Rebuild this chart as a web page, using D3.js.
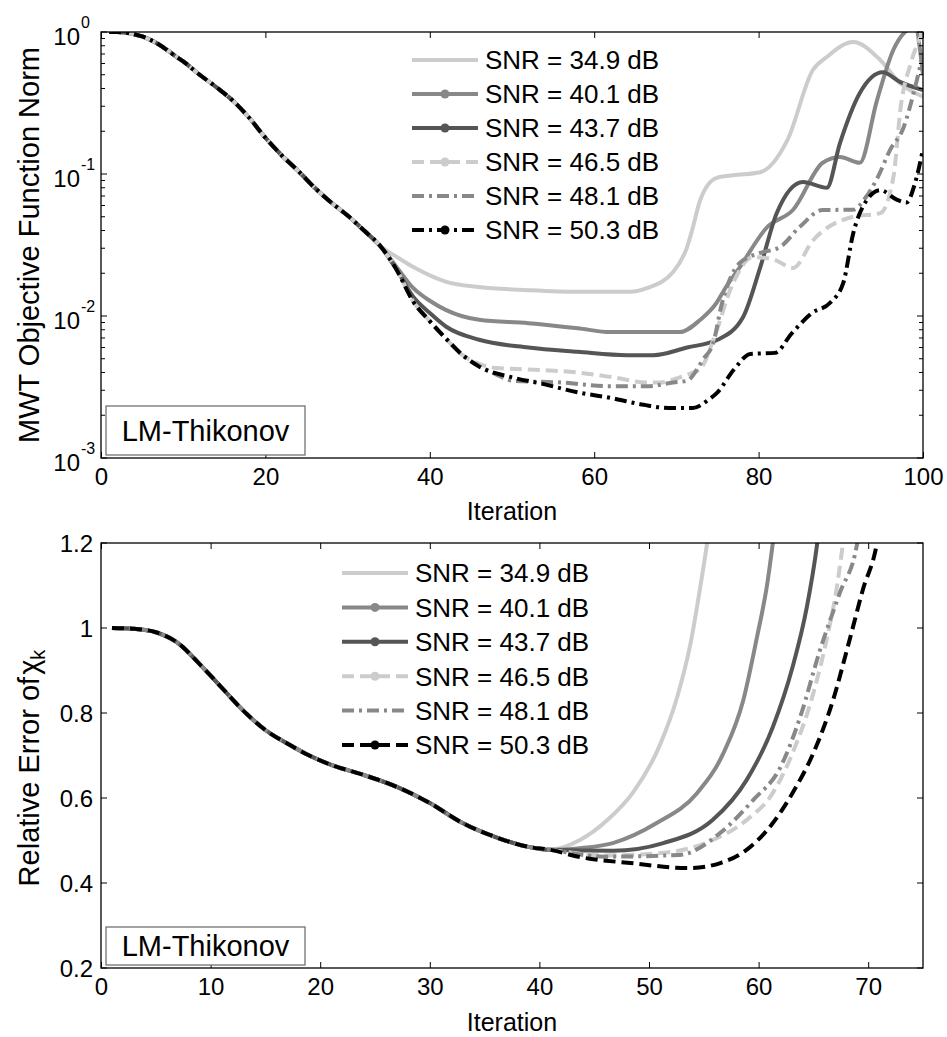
<!DOCTYPE html>
<html><head><meta charset="utf-8">
<script src="https://cdn.jsdelivr.net/npm/d3@7"></script>
<style>
body{margin:0;background:#fff}
text{font-family:"Liberation Sans",Arial,Helvetica,sans-serif;fill:#000}
</style></head>
<body><svg id="c" width="947" height="1037"></svg>
<script>
// ---------- DATA ----------
const seriesNames = ["SNR = 34.9 dB","SNR = 40.1 dB","SNR = 43.7 dB","SNR = 46.5 dB","SNR = 48.1 dB","SNR = 50.3 dB"];

// Top panel: MWT objective function norm (log scale), shared start
const topCommonIter = [1,2,3,4,5,6,7,8,9,10,12,14,16,18,20,22,24,26,28,30,32,34];
const topCommonVal  = [1.0,1.0,0.99,0.965,0.93,0.88,0.82,0.75,0.68,0.62,0.5,0.41,0.33,0.25,0.18,0.135,0.105,0.08,0.063,0.051,0.04,0.031];

const top349Iter = [36,38,42,46,52,58,64.4,66.4,69.6,71.3,71.9,72.9,74.9,76.9,80.2,83.5,86.6,88.3,91.5,94.8,97.2,100];
const top349Val  = [0.026,0.0221,0.0174,0.016,0.0152,0.0148,0.0148,0.0157,0.0204,0.0306,0.04,0.0656,0.094,0.098,0.103,0.173,0.54,0.667,0.85,0.635,0.437,0.35];

const top401Iter = [36,38,40,42,46,52,58,62,70.4,72.9,74.9,75.8,77.7,81,84.2,87.8,89.9,92.3,94.4,96.4,97.8,99,100];
const top401Val  = [0.022,0.0157,0.0128,0.011,0.0094,0.0089,0.0082,0.0077,0.0077,0.0094,0.0124,0.0152,0.022,0.042,0.056,0.12,0.132,0.12,0.33,0.75,1.0,1.08,0.5];

const top437Iter = [36,38,40,42,46,52,58,64,67.2,71.3,75,78.1,80.2,82.2,85.4,88.3,89.9,92.3,95.1,97.2,100];
const top437Val  = [0.021,0.0136,0.0105,0.0084,0.0068,0.006,0.0056,0.0053,0.0053,0.006,0.0068,0.0098,0.022,0.053,0.088,0.08,0.165,0.37,0.52,0.445,0.39];

const topGroupIter = [36,38,40,42,44];          // 46.5 / 48.1 / 50.3 together
const topGroupVal  = [0.021,0.0126,0.0092,0.0069,0.0053];

const top465Iter = [46,48.2,52,58,62.3,66.4,68,70.4,72,73,74.5,76.9,79.3,81.8,84.2,86.6,91.5,94.8,96.4,97.3,98.5,100];
const top465Val  = [0.0046,0.0043,0.0042,0.004,0.0037,0.0034,0.0034,0.0037,0.004,0.0043,0.0068,0.0171,0.026,0.025,0.0218,0.034,0.05,0.053,0.095,0.3,0.6,1.0];

const top481Iter = [45.3,48,50,56,62,66.4,69.6,71.3,72.5,73.2,74.5,75.5,77.7,80.2,82.6,85,87.8,91.5,93,94.5,96,97.6,99,100];
const top481Val  = [0.0047,0.0039,0.0035,0.0034,0.0032,0.0032,0.0034,0.0035,0.0042,0.0049,0.0065,0.012,0.0236,0.0278,0.0306,0.0424,0.0558,0.056,0.068,0.095,0.148,0.21,0.4,0.7];

const top503Iter = [46,50,54,58,62,66,69,72,74,75,77,79,82,84,86.5,88.7,90.3,91.5,93.2,94.8,96.8,98,99,100];
const top503Val  = [0.0044,0.0037,0.0033,0.0029,0.00265,0.00237,0.00225,0.00225,0.0026,0.0029,0.0042,0.0054,0.0055,0.0075,0.0105,0.0124,0.0171,0.038,0.066,0.077,0.066,0.063,0.085,0.15];

// Bottom panel: relative error of chi_k, shared start
const botCommonIter = [1,3,5,7,9,11,13,15,17,19,21,24,27,30,33,36,39,41];
const botCommonVal  = [1.0,0.998,0.99,0.965,0.915,0.86,0.805,0.76,0.728,0.70,0.678,0.654,0.626,0.588,0.541,0.508,0.485,0.478];

const bot349Iter = [43.7,46.2,48.6,51,52.6,53.8,54.7,55.3,55.8];
const bot349Val  = [0.501,0.548,0.615,0.725,0.84,0.965,1.1,1.2,1.3];
const bot401Iter = [43.7,46.7,50.7,54.4,56.8,58.6,59.8,60.8,61.3,61.8];
const bot401Val  = [0.482,0.494,0.541,0.612,0.706,0.83,0.972,1.106,1.2,1.3];
const bot437Iter = [46.7,51.3,55.8,58.9,61.3,63.1,64.4,65.3,65.8];
const bot437Val  = [0.476,0.494,0.548,0.642,0.767,0.908,1.049,1.19,1.3];
const bot465Iter = [46,51.3,55.8,58.9,61.3,63.1,65,66.2,67.2,67.7,68.2];
const bot465Val  = [0.465,0.471,0.501,0.548,0.612,0.706,0.847,0.972,1.106,1.2,1.3];
const bot481Iter = [46,52.8,56.5,59.5,62,63.8,65.6,67.4,69,69.5];
const bot481Val  = [0.462,0.466,0.518,0.595,0.673,0.791,0.948,1.082,1.2,1.3];
const bot503Iter = [43.7,48.3,53.7,56.5,58.9,61.3,63.1,65,66.8,68.3,69.5,70.8,71.4];
const bot503Val  = [0.461,0.447,0.435,0.447,0.478,0.541,0.612,0.706,0.831,0.972,1.089,1.2,1.3];

const topYTicks = [0,-1,-2,-3];           // exponents
const topXTicks = [0,20,40,60,80,100];
const botYTicks = [0.2,0.4,0.6,0.8,1,1.2];
const botXTicks = [0,10,20,30,40,50,60,70];

// ---------- STYLES ----------
const styles = [
  {color:"#cccccc", dash:null,            marker:false},
  {color:"#888888", dash:null,            marker:true},
  {color:"#555555", dash:null,            marker:true},
  {color:"#cccccc", dash:"12,6",          marker:true},
  {color:"#888888", dash:"12,5,3,5",      marker:false},
  {color:"#000000", dash:"12,5,3,5",      marker:true}
];
const botStyles = styles.map((s,i)=> i===5 ? Object.assign({},s,{dash:"12,6"}) : s);

const zip = (a,b)=>a.map((d,i)=>[d,b[i]]);
const topCommon = zip(topCommonIter, topCommonVal);
const topGroup = zip(topGroupIter, topGroupVal);
const topSeries = [
  topCommon.concat(zip(top349Iter,top349Val)),
  topCommon.concat(zip(top401Iter,top401Val)),
  topCommon.concat(zip(top437Iter,top437Val)),
  topCommon.concat(topGroup, zip(top465Iter,top465Val)),
  topCommon.concat(topGroup, zip(top481Iter,top481Val)),
  topCommon.concat(topGroup, zip(top503Iter,top503Val))
];
const botCommon = zip(botCommonIter, botCommonVal);
const botSeries = [
  botCommon.concat(zip(bot349Iter,bot349Val)),
  botCommon.concat(zip(bot401Iter,bot401Val)),
  botCommon.concat(zip(bot437Iter,bot437Val)),
  botCommon.concat(zip(bot465Iter,bot465Val)),
  botCommon.concat(zip(bot481Iter,bot481Val)),
  botCommon.concat(zip(bot503Iter,bot503Val))
];

// ---------- DRAW ----------
const svg = d3.select("#c");
const L = 101, R = 923;
const TICKFS = 24, LABFS = 25, LEGFS = 26, YLABFS = 29, BOXFS = 29;

function panel(cfg){
  const g = svg.append("g");
  const x = cfg.x, y = cfg.y;
  const [y0,y1] = y.range();
  const clipId = "clip"+cfg.id;
  svg.append("clipPath").attr("id",clipId).append("rect")
    .attr("x",L).attr("y",y1).attr("width",R-L).attr("height",y0-y1);

  const line = d3.line().x(d=>x(d[0])).y(d=>y(d[1])).curve(d3.curveMonotoneX);
  const lg = g.append("g").attr("clip-path",`url(#${clipId})`);
  cfg.series.forEach((s,i)=>{
    lg.append("path").attr("d",line(s)).attr("fill","none")
      .attr("stroke",cfg.styles[i].color).attr("stroke-width",4)
      .attr("stroke-dasharray",cfg.styles[i].dash)
      .attr("stroke-linejoin","round");
  });

  // axes box
  g.append("rect").attr("x",L).attr("y",y1).attr("width",R-L).attr("height",y0-y1)
    .attr("fill","none").attr("stroke","#000").attr("stroke-width",1.3);

  // x ticks
  const xa = d3.axisBottom(x).tickValues(cfg.xTicks).tickSize(-6).tickPadding(9).tickFormat(d3.format("d"));
  const xg = g.append("g").attr("transform",`translate(0,${y0})`).call(xa);
  xg.select(".domain").remove();
  xg.selectAll("text").attr("font-size",TICKFS).attr("fill","#000").attr("dy","0.75em")
    .style("font-family",'"Liberation Sans",Arial,sans-serif');
  const xt = g.append("g").attr("transform",`translate(0,${y1})`).call(d3.axisTop(x).tickValues(cfg.xTicks).tickSize(-6).tickFormat(""));
  xt.select(".domain").remove();

  // x label
  g.append("text").attr("x",(L+R)/2).attr("y",cfg.xLabelY).attr("text-anchor","middle")
    .attr("font-size",LABFS).text("Iteration");

  // legend
  const leg = g.append("g");
  seriesNames.forEach((n,i)=>{
    const yy = cfg.legY + i*cfg.legStep;
    const st = cfg.styles[i];
    leg.append("line").attr("x1",cfg.legX).attr("x2",cfg.legX+66).attr("y1",yy).attr("y2",yy)
      .attr("stroke",st.color).attr("stroke-width",4).attr("stroke-dasharray",st.dash);
    if(st.marker) leg.append("circle").attr("cx",cfg.legX+33).attr("cy",yy).attr("r",4.5).attr("fill",st.color);
    leg.append("text").attr("x",cfg.legX+73).attr("y",yy).attr("dy","0.36em")
      .attr("font-size",LEGFS).text(n);
  });

  // annotation box
  g.append("rect").attr("x",106).attr("y",cfg.boxY).attr("width",199).attr("height",cfg.boxH)
    .attr("fill","#fff").attr("stroke","#666").attr("stroke-width",1.2);
  g.append("text").attr("x",205.5).attr("y",cfg.boxY+cfg.boxH/2).attr("dy","0.36em")
    .attr("text-anchor","middle").attr("font-size",BOXFS).text("LM-Thikonov");
  return g;
}

// --- top panel ---
const xTop = d3.scaleLinear().domain([0,100]).range([L,R]);
const yTop = d3.scaleLog().domain([1e-3,1]).range([458,32]);
const gTop = panel({id:"t",x:xTop,y:yTop,series:topSeries,styles:styles,xTicks:topXTicks,
  xLabelY:520,legX:412,legY:60,legStep:34,boxY:406,boxH:49});
(function(){
  const g = gTop.append("g");
  const minor=[];
  for(let e=-3;e<0;e++) for(let k=2;k<=9;k++) minor.push(k*Math.pow(10,e));
  const maj = topYTicks.map(e=>Math.pow(10,e));
  [L,R].forEach((xx,side)=>{
    const dir = side===0?1:-1;
    g.selectAll(null).data(maj).enter().append("line")
      .attr("x1",xx).attr("x2",xx+dir*6).attr("y1",d=>yTop(d)).attr("y2",d=>yTop(d)).attr("stroke","#000");
    g.selectAll(null).data(minor).enter().append("line")
      .attr("x1",xx).attr("x2",xx+dir*4).attr("y1",d=>yTop(d)).attr("y2",d=>yTop(d)).attr("stroke","#000");
  });
  topYTicks.forEach(e=>{
    const yy = yTop(Math.pow(10,e));
    g.append("text").attr("x",80).attr("y",yy+4).attr("dy","0.36em")
      .attr("text-anchor","end").attr("font-size",TICKFS).text("10");
    g.append("text").attr("x",81).attr("y",yy-4)
      .attr("text-anchor","start").attr("font-size",16).text(String(e));
  });
  g.append("text").attr("transform",`translate(29,${(32+458)/2}) rotate(-90)`)
    .attr("text-anchor","middle").attr("dy","0.36em").attr("font-size",YLABFS).text("MWT Objective Function Norm");
})();

// --- bottom panel ---
const xBot = d3.scaleLinear().domain([0,75]).range([L,R]);
const yBot = d3.scaleLinear().domain([0.2,1.2]).range([968,543]);
const gBot = panel({id:"b",x:xBot,y:yBot,series:botSeries,styles:botStyles,xTicks:botXTicks,
  xLabelY:1031,legX:342,legY:573,legStep:34.4,boxY:927,boxH:38});
(function(){
  const g = gBot.append("g");
  [L,R].forEach((xx,side)=>{
    const dir = side===0?1:-1;
    g.selectAll(null).data(botYTicks).enter().append("line")
      .attr("x1",xx).attr("x2",xx+dir*6).attr("y1",d=>yBot(d)).attr("y2",d=>yBot(d)).attr("stroke","#000");
  });
  g.selectAll(null).data(botYTicks).enter().append("text")
    .attr("x",93).attr("y",d=>yBot(d)).attr("dy","0.36em").attr("text-anchor","end")
    .attr("font-size",TICKFS).text(d=>d3.format("~g")(d));
  const t = g.append("text").attr("transform",`translate(29,768) rotate(-90)`)
    .attr("text-anchor","middle").attr("dy","0.36em").attr("font-size",YLABFS);
  t.append("tspan").text("Relative Error of");
  t.append("tspan").attr("dx",2).text("χ");
  t.append("tspan").attr("font-size",20).attr("dy","0.3em").text("k");
})();
</script></body></html>
